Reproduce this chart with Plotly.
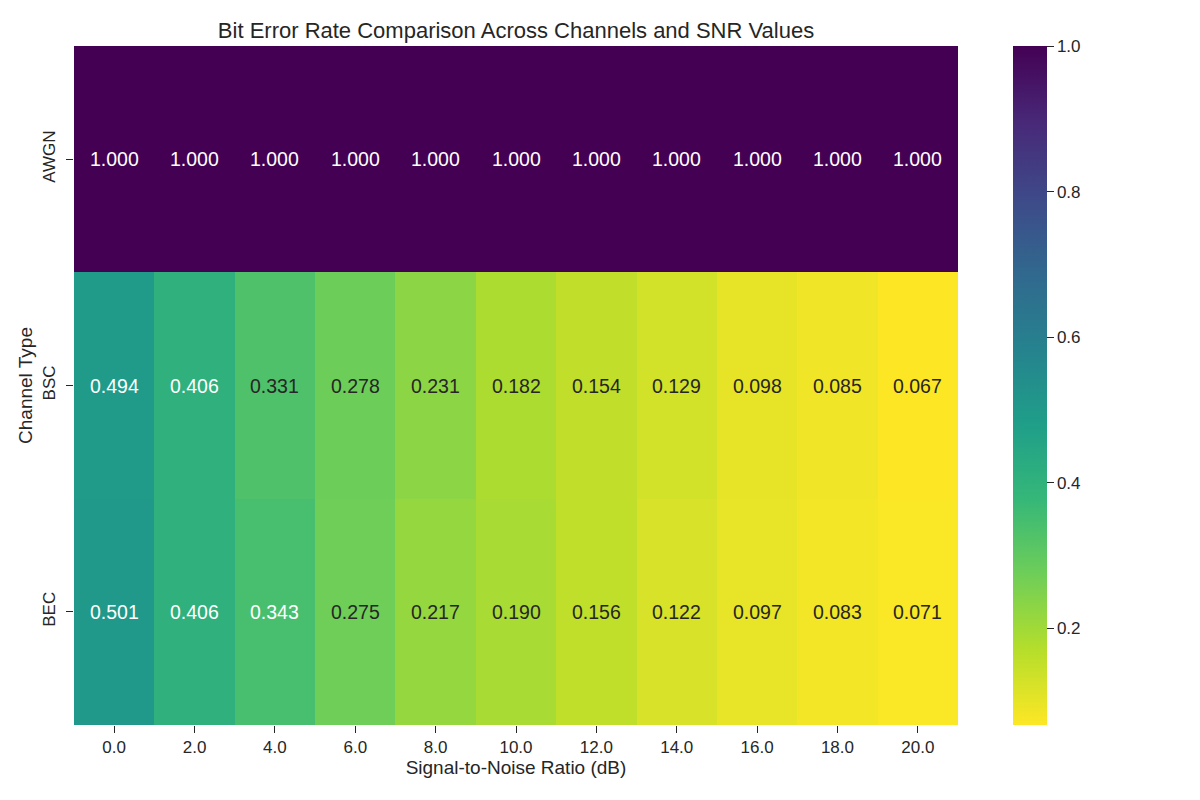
import plotly.graph_objects as go
import plotly.colors as pc

snr_labels = ["0.0", "2.0", "4.0", "6.0", "8.0", "10.0", "12.0", "14.0", "16.0", "18.0", "20.0"]
channels = ["AWGN", "BSC", "BEC"]
awgn = [1.000] * 11
bsc = [0.494, 0.406, 0.331, 0.278, 0.231, 0.182, 0.154, 0.129, 0.098, 0.085, 0.067]
bec = [0.501, 0.406, 0.343, 0.275, 0.217, 0.190, 0.156, 0.122, 0.097, 0.083, 0.071]
z = [awgn, bsc, bec]
cbar_ticks = [0.2, 0.4, 0.6, 0.8, 1.0]

zmin = min(min(r) for r in z)
zmax = max(max(r) for r in z)

TXT = "#262626"
FONT = "Liberation Sans, Arial, sans-serif"

fig = go.Figure(go.Heatmap(
    z=z, x=snr_labels, y=channels,
    colorscale="Viridis", reversescale=True,
    zmin=zmin, zmax=zmax,
    xgap=0, ygap=0,
    colorbar=dict(
        thickness=34, len=1, lenmode="fraction", y=0.5, yanchor="middle",
        x=1.0622, xanchor="left", xpad=0, ypad=0,
        tickvals=cbar_ticks, ticktext=[f"{t:.1f}" for t in cbar_ticks],
        ticks="outside", ticklen=7, tickwidth=1.3, tickcolor=TXT,
        tickfont=dict(size=17, color=TXT, family=FONT),
        outlinewidth=0,
    ),
    hoverinfo="skip",
))

def lum_text_color(v):
    t = (v - zmin) / (zmax - zmin)
    col = pc.sample_colorscale("Viridis", [1 - t])[0]
    r, g, b = [float(c) / 255 for c in col[col.index("(") + 1:-1].split(",")]
    def lin(c):
        return c / 12.92 if c <= 0.03928 else ((c + 0.055) / 1.055) ** 2.4
    L = 0.2126 * lin(r) + 0.7152 * lin(g) + 0.0722 * lin(b)
    return TXT if L > 0.408 else "white"

annotations = []
for yi, row in enumerate(z):
    for xi, v in enumerate(row):
        annotations.append(dict(
            x=xi, y=yi, xref="x", yref="y", text=f"{v:.3f}", showarrow=False,
            font=dict(size=19.5, color=lum_text_color(v), family=FONT),
        ))

fig.update_layout(
    width=1200, height=800,
    margin=dict(l=74, r=242, t=46, b=75),
    paper_bgcolor="white", plot_bgcolor="white",
    font=dict(family=FONT, color=TXT),
    title=dict(text="Bit Error Rate Comparison Across Channels and SNR Values",
               x=(74 + 958) / 2 / 1200, xanchor="center", y=1 - 30 / 800, yanchor="middle",
               font=dict(size=22, color=TXT, family=FONT)),
    annotations=annotations,
    xaxis=dict(
        type="category",
        title=dict(text="Signal-to-Noise Ratio (dB)", font=dict(size=19, color=TXT), standoff=4),
        tickfont=dict(size=17, color=TXT), ticks="outside", ticklen=7, tickwidth=1.3,
        tickcolor=TXT, showgrid=False, zeroline=False, showline=False,
    ),
    yaxis=dict(
        type="category",
        title=dict(text="Channel Type", font=dict(size=19, color=TXT), standoff=2),
        autorange="reversed",
        tickfont=dict(size=17, color=TXT), ticks="outside", ticklen=7, tickwidth=1.3,
        tickcolor=TXT, tickangle=-90, ticklabelstandoff=4,
        showgrid=False, zeroline=False, showline=False,
    ),
)

fig.write_html("out.html")
